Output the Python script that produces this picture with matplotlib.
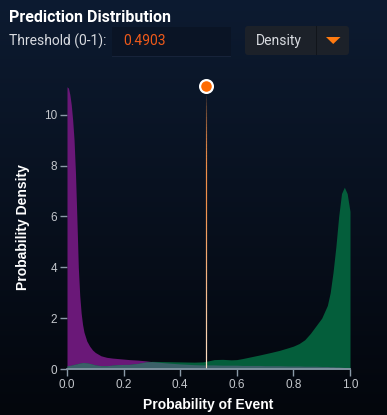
import numpy as np
import matplotlib
matplotlib.use("Agg")
import matplotlib.pyplot as plt
from matplotlib.collections import LineCollection
from matplotlib.patches import Rectangle, FancyBboxPatch, Polygon
from matplotlib.colors import to_rgba

# values
x = [0, .005, .01, .015, .02, .025, .03, .035, .04, .045, .05, .055, .06, .07,
     .08, .09, .10, .12, .14, .16, .18, .20, .22, .25, .28, .30, .35, .40, .45,
     .48, .50, .52, .55, .58, .60, .62, .65, .68, .70, .72, .75, .78, .80, .82,
     .84, .86, .88, .90, .91, .92, .93, .94, .95, .96, .97, .98, .99, 1.0]
purple = [11.1, 11.05, 10.8, 10.4, 9.8, 9.0, 7.7, 5.9, 4.0, 2.9, 2.2, 1.75, 1.45,
          1.1, 0.9, 0.75, 0.65, 0.52, 0.46, 0.43, 0.41, 0.39, 0.37, 0.35, 0.32,
          0.29, 0.24, 0.2, 0.17, 0.16, 0.16, 0.16, 0.15, 0.15, 0.15, 0.14, 0.14,
          0.14, 0.13, 0.13, 0.13, 0.12, 0.12, 0.12, 0.11, 0.11, 0.11, 0.1, 0.1,
          0.1, 0.09, 0.09, 0.08, 0.08, 0.07, 0.06, 0.06, 0.05]
green = [0.12, 0.13, 0.14, 0.15, 0.16, 0.18, 0.19, 0.2, 0.22, 0.23, 0.24, 0.25,
         0.25, 0.24, 0.22, 0.19, 0.16, 0.13, 0.13, 0.15, 0.17, 0.18, 0.18, 0.22,
         0.28, 0.3, 0.29, 0.28, 0.27, 0.28, 0.32, 0.37, 0.38, 0.36, 0.37, 0.41,
         0.48, 0.55, 0.6, 0.65, 0.73, 0.83, 0.9, 1.0, 1.15, 1.4, 1.7, 2.0, 2.25,
         2.5, 3.0, 3.8, 4.8, 6.0, 6.9, 7.15, 6.9, 6.2]
threshold = 0.4903
yticks = [0, 2, 4, 6, 8, 10]
xticks = [0.0, 0.2, 0.4, 0.6, 0.8, 1.0]
ytop = 11.13

W, H = 387, 415
fig = plt.figure(figsize=(W / 100, H / 100), dpi=100)

def fx(px):
    return px / W

def fy(py):
    return 1 - py / H

# background gradient
bg = fig.add_axes([0, 0, 1, 1], zorder=-10)
top_c = np.array(to_rgba("#0d1b31"))
bot_c = np.array(to_rgba("#03060c"))
t = np.linspace(0, 1, 256)[:, None]
grad = (top_c[None, :] * (1 - t) + bot_c[None, :] * t)[:, None, :]
bg.imshow(grad, aspect="auto", extent=[0, 1, 0, 1], origin="upper")
bg.set_axis_off()

# header widgets
fig.text(fx(9), fy(17), "Prediction Distribution", family="Roboto",
         weight="bold", fontsize=11.5, color="white", va="center")
fig.text(fx(9), fy(41), "Threshold (0-1):", family="Roboto", fontsize=10,
         color="#d8dbe0", va="center")
fig.patches.append(Rectangle((fx(112), fy(57)), fx(119), 30 / H,
                             transform=fig.transFigure, facecolor="#0a1425",
                             edgecolor="none", zorder=1))
fig.patches.append(Rectangle((fx(112), fy(57)), fx(119), 1 / H,
                             transform=fig.transFigure, facecolor="#17233a",
                             edgecolor="none", zorder=1))
fig.text(fx(123), fy(41), f"{threshold:.4f}", family="Roboto", fontsize=10,
         color="#f05a1a", va="center")
fig.patches.append(FancyBboxPatch((fx(245), fy(55)), fx(104), 29 / H,
                                  boxstyle="round,pad=0,rounding_size=0.008",
                                  transform=fig.transFigure, facecolor="#1c2129",
                                  edgecolor="none", zorder=1))
fig.patches.append(Rectangle((fx(316), fy(55)), 1 / W, 29 / H,
                             transform=fig.transFigure, facecolor="#11151b",
                             edgecolor="none", zorder=2))
fig.text(fx(256), fy(40.5), "Density", family="Roboto", fontsize=10,
         color="#d8dbe0", va="center")
fig.patches.append(Polygon([(fx(326), fy(37)), (fx(340.5), fy(37)),
                            (fx(333.2), fy(44))], closed=True,
                           transform=fig.transFigure, facecolor="#ff7a10",
                           edgecolor="none", zorder=2))

# main chart
ax = fig.add_axes([fx(67), fy(369), fx(350 - 67), (369 - 86) / H])
ax.set_facecolor("none")
ax.fill_between(x, 0, purple, color="#6a1878", lw=0, zorder=2)
ax.fill_between(x, 0, green, color="#045e3b", lw=0, zorder=3)
ax.fill_between(x, 0, np.minimum(purple, green), color="#3b6068", lw=0, zorder=4)

# threshold line, fading at the top (overlapping segments to avoid gaps)
yy = np.linspace(0, ytop - 0.35, 80)
segs = [[(threshold, yy[i]), (threshold, yy[min(i + 2, len(yy) - 1)])]
        for i in range(len(yy) - 1)]
cols = []
peach = np.array(to_rgba("#fbe2c8"))
orange = np.array(to_rgba("#f0904a"))
for i in range(len(yy) - 1):
    f = yy[i] / yy[-1]
    k = min(f / 0.6, 1)
    c = peach * (1 - k) + orange * k
    c[3] = 1.0 if f < 0.7 else max(0.0, 1 - (f - 0.7) / 0.3)
    cols.append(c)
ax.add_collection(LineCollection(segs, colors=cols, linewidths=0.8,
                                 capstyle="butt", zorder=5))
ax.scatter([threshold], [ytop], s=85, color="#ff6a00", edgecolor="white",
           linewidth=1.6, zorder=6, clip_on=False)

ax.set_xlim(0, 1)
ax.set_ylim(0, ytop)
ax.set_xticks(xticks)
ax.set_xticklabels([f"{v:.1f}" for v in xticks])
ax.set_yticks(yticks)
for s in ["top", "right", "left"]:
    ax.spines[s].set_visible(False)
ax.spines["bottom"].set_color("#8a9aa8")
ax.spines["bottom"].set_linewidth(1.2)
ax.spines["bottom"].set_zorder(7)
ax.tick_params(colors="#8a9aa8", labelcolor="#c4c7cc", length=5, width=1,
               labelsize=8.5, pad=2)
for lab in ax.get_xticklabels() + ax.get_yticklabels():
    lab.set_family("Liberation Sans")
ax.set_xlabel("Probability of Event", family="Liberation Sans", weight="bold",
              fontsize=10, color="white", labelpad=5)
ax.set_ylabel("Probability Density", family="Liberation Sans", weight="bold",
              fontsize=10, color="white", labelpad=10)

fig.savefig("out.png", dpi=100)
